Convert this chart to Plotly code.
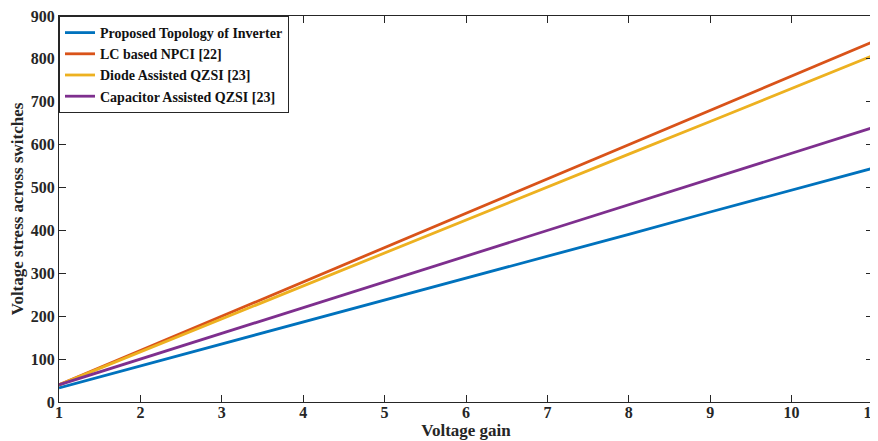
import plotly.graph_objects as go

gain = [1, 2, 3, 4, 5, 6, 7, 8, 9, 10, 11]
proposed = [33, 84, 135, 187, 238, 289, 340, 391, 443, 494, 545]
lc_npci = [40, 120, 200, 280, 360, 440, 520, 600, 680, 760, 840]
diode_qzsi = [40, 117, 194, 270, 347, 424, 501, 578, 654, 731, 808]
cap_qzsi = [40, 100, 160, 220, 280, 340, 400, 460, 520, 580, 640]
x_ticklabels = ["1", "2", "3", "4", "5", "6", "7", "8", "9", "10", "11"]

names = ["Proposed Topology of Inverter", "LC based NPCI [22]",
         "Diode Assisted QZSI [23]", "Capacitor Assisted QZSI [23]"]
colors = ["#0072BD", "#D95319", "#EDB120", "#7E2F8E"]
series = [proposed, lc_npci, diode_qzsi, cap_qzsi]

fig = go.Figure()
for n, c, s in zip(names, colors, series):
    fig.add_trace(go.Scatter(x=gain, y=s, mode="lines", name=f"<b>{n}</b>",
                             line=dict(color=c, width=2.8)))

serif = "Liberation Serif, Times New Roman, serif"
axis_common = dict(showline=True, linecolor="#262626", linewidth=1.3, mirror="ticks",
                   ticks="inside", ticklen=7, tickcolor="#262626", tickwidth=1.1,
                   showgrid=False, zeroline=False, automargin=False,
                   ticklabeloverflow="allow",
                   tickfont=dict(family=serif, size=16, color="#262626"))
xt_text = [f"<b>{t}</b>" for t in x_ticklabels]
xt_text[-1] = f"<b>{x_ticklabels[-1]}</b>&nbsp;"  # keep last label inside the page edge
fig.update_xaxes(range=[1, 11], tickvals=gain, ticktext=xt_text,
                 ticklabelstandoff=-4,
                 title=dict(text="<b>Voltage gain</b>", standoff=2,
                            font=dict(family=serif, size=17, color="#262626")),
                 **axis_common)
yt = list(range(0, 901, 100))
fig.update_yaxes(range=[0, 900], tickvals=yt, ticktext=[f"<b>{v}</b>" for v in yt],
                 title=dict(text="<b>Voltage stress across switches</b>", standoff=6,
                            font=dict(family=serif, size=17, color="#262626")),
                 **axis_common)
# page body has an 8px margin, so the figure is sized/margined to compensate
fig.update_layout(width=870, height=433, margin=dict(l=51, r=5, t=8, b=39),
                  plot_bgcolor="white", paper_bgcolor="white",
                  font=dict(family=serif, size=14, color="#262626"),
                  legend=dict(x=0, y=1, xanchor="left", yanchor="top",
                              bgcolor="white", bordercolor="#262626", borderwidth=1,
                              font=dict(family=serif, size=14, color="#111111"),
                              tracegroupgap=0, itemwidth=30),
                  showlegend=True)
fig.write_html("out.html")
